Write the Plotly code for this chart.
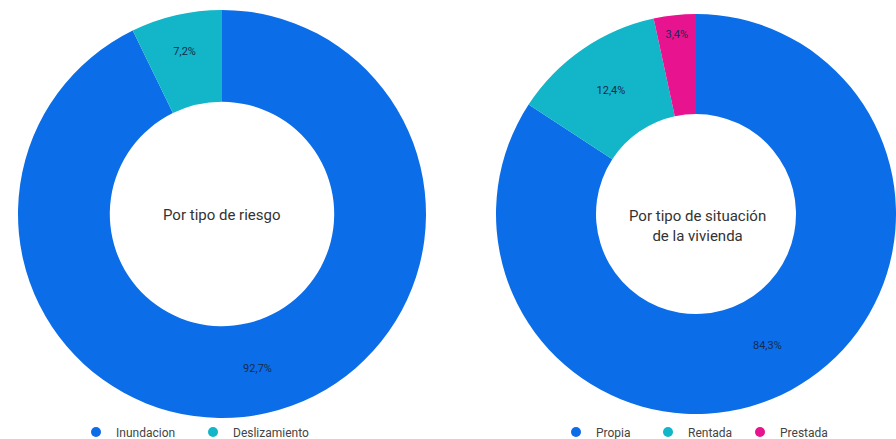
import plotly.graph_objects as go

# ---- data ----
riesgo_labels = ["Inundacion", "Deslizamiento"]
riesgo_values = [92.7, 7.2]
vivienda_labels = ["Propia", "Rentada", "Prestada"]
vivienda_values = [84.3, 12.4, 3.4]

BLUE = "#0b6ee8"
TEAL = "#12b6c8"
PINK = "#e8138f"
riesgo_colors = [BLUE, TEAL]
vivienda_colors = [BLUE, TEAL, PINK]

W, H = 896, 439
FONT = "Roboto"


def fmt(v):
    return f"{v:.1f}%".replace(".", ",")


def px_dom(x0, x1, y0, y1):
    return dict(x=[x0 / W, x1 / W], y=[1 - y1 / H, 1 - y0 / H])


fig = go.Figure()

fig.add_trace(go.Pie(
    labels=riesgo_labels, values=riesgo_values,
    text=[fmt(v) for v in riesgo_values], textinfo="text",
    hole=0.55, sort=False, direction="clockwise", rotation=0,
    marker=dict(colors=riesgo_colors, line=dict(width=0)),
    textposition="inside", insidetextorientation="horizontal",
    textfont=dict(family=FONT, size=11, color="#172a4f"),
    domain=px_dom(17, 427, 10, 418),
    showlegend=False,
))

fig.add_trace(go.Pie(
    labels=vivienda_labels, values=vivienda_values,
    text=[fmt(v) for v in vivienda_values], textinfo="text",
    hole=0.5, sort=False, direction="clockwise", rotation=0,
    marker=dict(colors=vivienda_colors, line=dict(width=0)),
    textposition="inside", insidetextorientation="horizontal",
    textfont=dict(family=FONT, size=11, color="#172a4f"),
    domain=px_dom(496, 896, 14, 414),
    showlegend=False,
))

# legend entries (circle markers) on an invisible axis
for lab, col in zip(riesgo_labels, riesgo_colors):
    fig.add_trace(go.Scatter(
        x=[None], y=[None], mode="markers", name=lab,
        marker=dict(symbol="circle", size=10, color=col),
        legend="legend", hoverinfo="skip",
    ))
for lab, col in zip(vivienda_labels, vivienda_colors):
    fig.add_trace(go.Scatter(
        x=[None], y=[None], mode="markers", name=lab,
        marker=dict(symbol="circle", size=10, color=col),
        legend="legend2", hoverinfo="skip",
    ))

fig.update_layout(
    width=W, height=H,
    margin=dict(l=0, r=0, t=0, b=0, autoexpand=False),
    paper_bgcolor="white", plot_bgcolor="white",
    font=dict(family=FONT, size=12, color="#444444"),
    xaxis=dict(visible=False),
    yaxis=dict(visible=False),
    legend=dict(
        orientation="h", x=76 / W, xanchor="left",
        y=1 - 432 / H, yanchor="middle",
        entrywidth=72, entrywidthmode="pixels",
        font=dict(family=FONT, size=12, color="#444444"),
        bgcolor="rgba(0,0,0,0)", itemclick=False,
    ),
    legend2=dict(
        orientation="h", x=556 / W, xanchor="left",
        y=1 - 432 / H, yanchor="middle",
        entrywidth=47, entrywidthmode="pixels",
        font=dict(family=FONT, size=12, color="#444444"),
        bgcolor="rgba(0,0,0,0)", itemclick=False,
    ),
    annotations=[
        dict(text="Por tipo de riesgo", x=222 / W, y=1 - 215 / H,
             xref="paper", yref="paper", showarrow=False,
             xanchor="center", yanchor="middle",
             font=dict(family=FONT, size=15, color="#333333")),
        dict(text="Por tipo de situación<br>de la vivienda", x=697 / W, y=1 - 226 / H,
             xref="paper", yref="paper", showarrow=False,
             xanchor="center", yanchor="middle",
             font=dict(family=FONT, size=15, color="#333333")),
    ],
)

fig.write_html(
    "out.html",
    config={"displayModeBar": False},
    post_script="document.body.style.margin='0';document.body.style.overflow='hidden';",
)
